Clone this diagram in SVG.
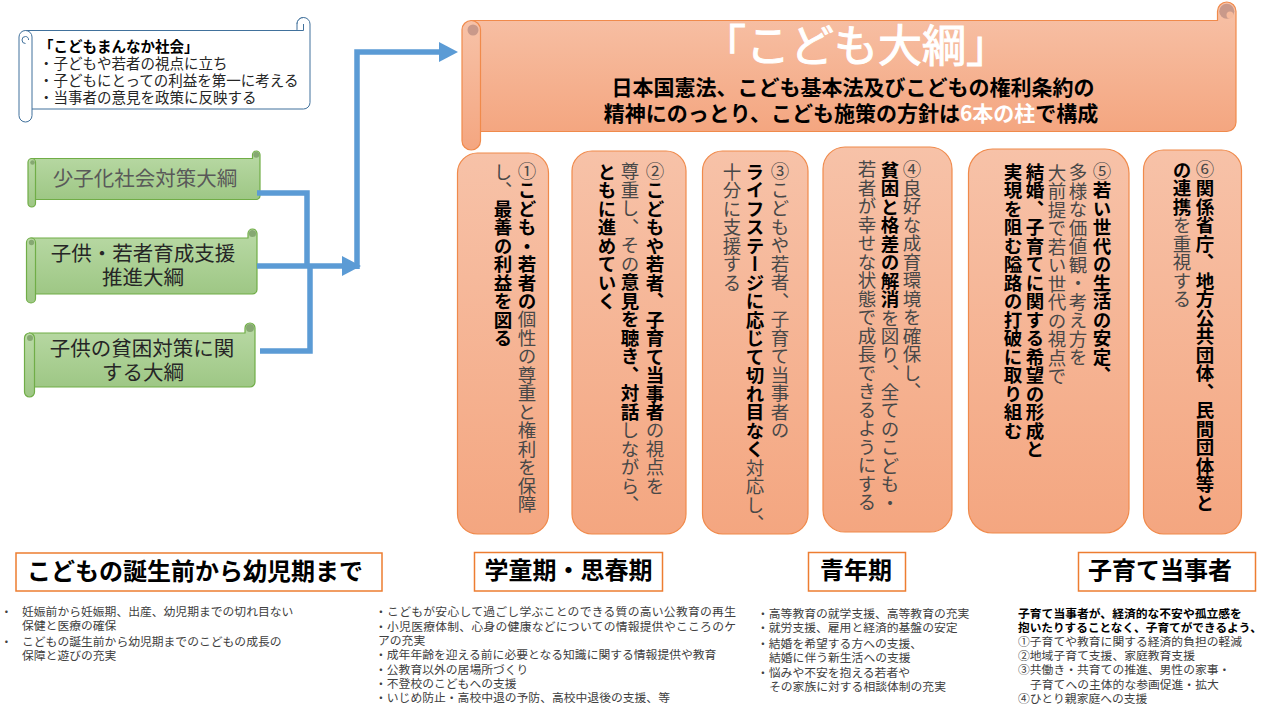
<svg xmlns="http://www.w3.org/2000/svg" width="1280" height="720" viewBox="0 0 1280 720">
<defs>
<linearGradient id="gOr" x1="0" y1="0" x2="0" y2="1"><stop offset="0" stop-color="#F7C2A8"/><stop offset="1" stop-color="#F4A680"/></linearGradient>
<linearGradient id="gGr" x1="0" y1="0" x2="0" y2="1"><stop offset="0" stop-color="#BADAA6"/><stop offset="1" stop-color="#9EC785"/></linearGradient>
<marker id="arr" markerUnits="userSpaceOnUse" markerWidth="19" markerHeight="20" refX="0" refY="10" orient="auto"><path d="M0,0 L19,10 L0,20 Z" fill="#5B9BD5"/></marker>
</defs>
<style>
text{font-family:"Noto Sans CJK JP","Noto Sans",sans-serif}
.v{writing-mode:vertical-rl;font-size:18.5px;fill:#484848}
.b{font-weight:bold;fill:#000}
.or{fill:url(#gOr);stroke:#F08A4B;stroke-width:1.2}
.gr{fill:url(#gGr);stroke:#70AD47;stroke-width:1.2}
.gdk{fill:#86A872}
.odk{fill:#C9998A}
.bl{fill:#fff;stroke:#41719C;stroke-width:1}
.gt{font-size:20.5px;fill:#262626;text-anchor:middle}
.hd{fill:#fff;stroke:#ED7D31;stroke-width:1.5}
.ht{font-size:24px;font-weight:bold;fill:#000;text-anchor:middle}
.ls{font-size:11.8px;fill:#404040}
.lb{font-weight:bold;fill:#000}
.conn{fill:none;stroke:#5B9BD5;stroke-width:5.5}
</style>
<rect width="1280" height="720" fill="#fff"/>

<g id="note">
<path class="bl" d="M25.5 30.5 H297 V24 A6.5 6.5 0 0 1 310 24 V102.5 A6.5 6.5 0 0 1 303.5 109 H25.5 Z"/>
<path class="bl" d="M297 24 A6.5 6.5 0 0 1 303.5 17.5 M297 30.5 H303.5 V24"/>
<rect class="bl" x="19" y="30.5" width="13" height="91.5" rx="6.5"/>
<path class="bl" d="M25.5 43.5 A3.5 3.5 0 0 1 25.5 36.5 A3 3 0 0 1 28.5 40"/>
<text font-size="14.5" fill="#262626"><tspan x="39" y="52" font-weight="bold" fill="#000">「こどもまんなか社会」</tspan><tspan x="39" y="69">・子どもや若者の視点に立ち</tspan><tspan x="39" y="86">・子どもにとっての利益を第一に考える</tspan><tspan x="39" y="103">・当事者の意見を政策に反映する</tspan></text>
</g>

<g id="banner">
<path class="or" d="M471 20.5 H1217.5 V11.25 A9.25 9.25 0 0 1 1236 11.25 V122.25 A9.25 9.25 0 0 1 1226.75 131.5 H471 Z"/>
<circle class="odk" cx="1226.75" cy="11.25" r="7.5"/>
<circle cx="1230" cy="15" r="3.5" fill="#F6BA9C"/>
<rect class="or" x="462" y="20.5" width="18.5" height="129.5" rx="9.25"/>
<circle class="odk" cx="473" cy="30" r="5.5"/>
<text x="856" y="62" font-size="44" fill="#fff" stroke="#fff" stroke-width="1" text-anchor="middle">「こども大綱」</text>
<text font-size="21" font-weight="bold" fill="#000" text-anchor="middle"><tspan x="853" y="95">日本国憲法、こども基本法及びこどもの権利条約の</tspan><tspan x="851" y="121">精神にのっとり、こども施策の方針は<tspan fill="#fff">6本の柱</tspan>で構成</tspan></text>
</g>

<g id="node-shoushika">
<path class="gr" d="M31.75 158.5 H252.5 V154.75 A3.75 3.75 0 0 1 260 154.75 V195.75 A3.75 3.75 0 0 1 256.25 199.5 H31.75 Z"/>
<circle class="gdk" cx="256.25" cy="154.75" r="3"/>
<rect class="gr" x="28" y="158.5" width="7.5" height="48.5" rx="3.75"/>
<circle class="gdk" cx="32.5" cy="162.5" r="2.3"/>
<text class="gt" x="145" y="186" style="fill:#595959">少子化社会対策大綱</text>
</g>

<g id="node-wakamono">
<path class="gr" d="M31 238 H248 V233.5 A4.5 4.5 0 0 1 257 233.5 V289.5 A4.5 4.5 0 0 1 252.5 294 H31 Z"/>
<circle class="gdk" cx="252.5" cy="233.5" r="3.6"/>
<rect class="gr" x="26.5" y="238" width="9" height="65" rx="4.5"/>
<circle class="gdk" cx="31.5" cy="242.5" r="2.7"/>
<text class="gt"><tspan x="143" y="261">子供・若者育成支援</tspan><tspan x="143" y="285">推進大綱</tspan></text>
</g>

<g id="node-hinkon">
<path class="gr" d="M29.5 333 H245 V328 A5 5 0 0 1 255 328 V382 A5 5 0 0 1 250 387 H29.5 Z"/>
<circle class="gdk" cx="250" cy="328" r="4"/>
<rect class="gr" x="24.5" y="333" width="10" height="64" rx="5"/>
<circle class="gdk" cx="30" cy="338" r="3"/>
<text class="gt"><tspan x="142" y="356">子供の貧困対策に関</tspan><tspan x="143" y="380">する大綱</tspan></text>
</g>

<g id="connectors">
<path class="conn" d="M257 193 H307 V268"/>
<path class="conn" d="M260 351 H310 V264"/>
<path class="conn" d="M257 266 H342" marker-end="url(#arr)"/>
<path class="conn" d="M357 269 V52 H439" marker-end="url(#arr)"/>
</g>

<g id="pillar1">
<rect class="or" x="457.5" y="153" width="91" height="381" rx="20"/>
<text class="v"><tspan x="527" y="162">①<tspan class="b">こども・若者の</tspan>個性の尊重と権利を保障</tspan><tspan x="503" y="162">し、<tspan class="b">最善の利益を図る</tspan></tspan></text>
</g>

<g id="pillar2">
<rect class="or" x="572" y="151" width="114" height="383" rx="20"/>
<text class="v"><tspan x="655" y="162">②<tspan class="b">こどもや若者、子育て当事者</tspan>の視点を</tspan><tspan x="630" y="162">尊重し、その<tspan class="b">意見を聴き、対話</tspan>しながら、</tspan><tspan x="607" y="162" class="b">ともに進めていく</tspan></text>
</g>

<g id="pillar3">
<rect class="or" x="702.5" y="151" width="105.5" height="383" rx="20"/>
<text class="v"><tspan x="780" y="162">③こどもや若者、子育て当事者の</tspan><tspan x="755" y="162"><tspan class="b">ライフステージに応じて切れ目なく</tspan>対応し、</tspan><tspan x="732" y="162">十分に支援する</tspan></text>
</g>

<g id="pillar4">
<rect class="or" x="823" y="147" width="129" height="385" rx="22"/>
<text class="v"><tspan x="912" y="160">④良好な成育環境を確保し、</tspan><tspan x="890" y="160"><tspan class="b">貧困と格差の解消</tspan>を図り、全てのこども・</tspan><tspan x="867" y="160">若者が幸せな状態で成長できるようにする</tspan></text>
</g>

<g id="pillar5">
<rect class="or" x="968.5" y="149" width="160.5" height="384" rx="24"/>
<text class="v"><tspan x="1102" y="162">⑤<tspan class="b">若い世代の生活の安定、</tspan></tspan><tspan x="1078" y="163">多様な価値観・考え方を</tspan><tspan x="1057" y="163">大前提で若い世代の視点で</tspan><tspan x="1035" y="162" class="b">結婚、子育てに関する希望の形成と</tspan><tspan x="1013" y="162" class="b">実現を阻む隘路の打破に取り組む</tspan></text>
</g>

<g id="pillar6">
<rect class="or" x="1143.5" y="150" width="98" height="384" rx="20"/>
<text class="v"><tspan x="1205" y="160">⑥<tspan class="b">関係省庁、地方公共団体、民間団体等と</tspan></tspan><tspan x="1182" y="160"><tspan class="b">の連携</tspan>を重視する</tspan></text>
</g>

<g id="stage-infant">
<rect class="hd" x="16" y="553" width="366" height="38"/>
<text class="ht" x="195" y="580">こどもの誕生前から幼児期まで</text>
<text class="ls"><tspan x="0.5" y="616.3">・</tspan><tspan x="22" y="616.3">妊娠前から妊娠期、出産、幼児期までの切れ目ない</tspan><tspan x="22" y="630">保健と医療の確保</tspan><tspan x="0.5" y="646.3">・</tspan><tspan x="22" y="646.3">こどもの誕生前から幼児期までのこどもの成長の</tspan><tspan x="22" y="660">保障と遊びの充実</tspan></text>
</g>

<g id="stage-school">
<rect class="hd" x="474.5" y="552.5" width="188" height="38.5"/>
<text class="ht" x="568.5" y="579">学童期・思春期</text>
<text class="ls"><tspan x="375" y="616.3" textLength="361" lengthAdjust="spacing">・こどもが安心して過ごし学ぶことのできる質の高い公教育の再生</tspan><tspan x="375" y="630.6" textLength="361" lengthAdjust="spacing">・小児医療体制、心身の健康などについての情報提供やこころのケ</tspan><tspan x="378" y="644.9">アの充実</tspan><tspan x="375" y="659.2">・成年年齢を迎える前に必要となる知識に関する情報提供や教育</tspan><tspan x="375" y="673.5">・公教育以外の居場所づくり</tspan><tspan x="375" y="687.8">・不登校のこどもへの支援</tspan><tspan x="375" y="702.1">・いじめ防止・高校中退の予防、高校中退後の支援、等</tspan></text>
</g>

<g id="stage-youth">
<rect class="hd" x="808.5" y="552.5" width="97" height="38.5"/>
<text class="ht" x="856" y="579">青年期</text>
<text class="ls"><tspan x="757" y="617.6">・高等教育の就学支援、高等教育の充実</tspan><tspan x="757" y="631.6">・就労支援、雇用と経済的基盤の安定</tspan><tspan x="757" y="647.6">・結婚を希望する方への支援、</tspan><tspan x="769" y="661.6">結婚に伴う新生活への支援</tspan><tspan x="757" y="676.6">・悩みや不安を抱える若者や</tspan><tspan x="769" y="690.6">その家族に対する相談体制の充実</tspan></text>
</g>

<g id="stage-parents">
<rect class="hd" x="1078.5" y="552.5" width="177" height="38.5"/>
<text class="ht" x="1160" y="579">子育て当事者</text>
<text class="ls"><tspan x="1018" y="617.5" class="lb">子育て当事者が、経済的な不安や孤立感を</tspan><tspan x="1018" y="631.7" class="lb" textLength="244" lengthAdjust="spacingAndGlyphs">抱いたりすることなく、子育てができるよう、</tspan><tspan x="1018" y="645.9">①子育てや教育に関する経済的負担の軽減</tspan><tspan x="1018" y="660.1">②地域子育て支援、家庭教育支援</tspan><tspan x="1018" y="674.3">③共働き・共育ての推進、男性の家事・</tspan><tspan x="1030" y="688.5">子育てへの主体的な参画促進・拡大</tspan><tspan x="1018" y="702.7">④ひとり親家庭への支援</tspan></text>
</g>
</svg>
